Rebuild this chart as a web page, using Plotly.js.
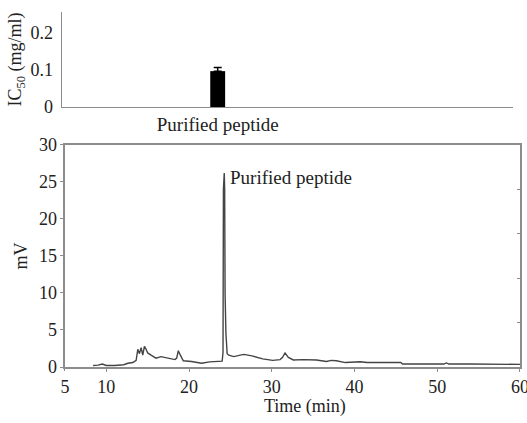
<!DOCTYPE html>
<html>
<head>
<meta charset="utf-8">
<script src="https://cdn.plot.ly/plotly-3.0.1.min.js"></script>
<style>
  html, body { margin: 0; padding: 0; background: #fff; }
  #chart { width: 527px; height: 423px; }
</style>
</head>
<body>
<div id="chart"></div>
<script>
// IC50 of the purified fraction (bar with upward error)
const sampleNames = ['Purified peptide'];
const ic50Values = [0.097];
const ic50Errors = [0.01];

// RP-HPLC chromatogram of the purified peptide
const timeMin = [8.4, 9.0, 9.5, 10.0, 11.0, 12.1, 12.6, 13.2, 13.6, 13.8, 14.0, 14.2, 14.4, 14.6, 14.8,
  15.0, 15.4, 16.0, 16.6, 17.0, 17.5, 18.3, 18.5, 18.7, 18.9, 19.3, 20.3, 21.5, 22.5, 23.3, 24.0,
  24.1, 24.15, 24.25, 24.3, 24.35, 24.45, 24.6, 24.8, 25.4, 26.6, 27.6, 28.9, 30.1, 31.0, 31.3,
  31.6, 32.0, 32.6, 33.8, 35.4, 36.6, 37.2, 37.8, 38.9, 40.7, 41.5, 45.6, 45.8, 48.0, 50.8, 51.1,
  51.4, 54.0, 57.0, 60.0];
const signalMV = [0.2, 0.25, 0.4, 0.2, 0.2, 0.3, 0.5, 0.6, 0.9, 2.4, 1.8, 2.6, 1.6, 2.8, 2.4,
  1.9, 1.6, 1.2, 1.4, 1.3, 1.1, 1.0, 1.2, 2.2, 1.7, 0.85, 0.75, 0.5, 0.7, 0.8, 0.8,
  2.0, 24.0, 26.2, 24.0, 10.0, 4.6, 1.8, 1.6, 1.4, 1.7, 1.5, 1.1, 0.9, 1.0, 1.3,
  1.9, 1.3, 0.95, 1.0, 0.95, 0.75, 0.9, 0.85, 0.6, 0.7, 0.6, 0.6, 0.4, 0.4, 0.4, 0.55,
  0.4, 0.4, 0.35, 0.35];

// Peak label, axis ticks and right-hand minor marks
const peakLabel = 'Purified peptide';
const rightTicks = [6, 12, 18, 24];
const mvTicks = [0, 5, 10, 15, 20, 25, 30];
const timeStartTick = [5];
const timeTicks = [10, 20, 30, 40, 50, 60];

const serif = "'Liberation Serif', 'Times New Roman', Times, serif";
const axisGray = '#8c8c8c';
const txt = '#222';

const peakIdx = signalMV.indexOf(Math.max(...signalMV));

const traces = [
  {
    type: 'bar',
    x: sampleNames,
    y: ic50Values,
    width: 0.5,
    marker: { color: '#000' },
    error_y: { type: 'data', symmetric: false, array: ic50Errors, arrayminus: [0],
               color: '#000', thickness: 1.5, width: 4 },
    xaxis: 'x', yaxis: 'y',
    hoverinfo: 'skip'
  },
  {
    type: 'scatter',
    mode: 'lines',
    x: timeMin,
    y: signalMV,
    line: { color: '#444', width: 1.4 },
    xaxis: 'x2', yaxis: 'y2',
    hoverinfo: 'skip'
  },
  {
    // empty traces so the extra overlay axes are drawn
    type: 'scatter', mode: 'lines', x: [], y: [],
    xaxis: 'x2', yaxis: 'y3', showlegend: false
  },
  {
    type: 'scatter', mode: 'lines', x: [], y: [],
    xaxis: 'x3', yaxis: 'y2', showlegend: false
  }
];

const tickFont = { family: serif, size: 18, color: txt };
const labelFont = { family: serif, size: 19, color: txt };

const layout = {
  width: 527, height: 423,
  margin: { l: 62, r: 7, t: 12, b: 56 },
  paper_bgcolor: '#fff', plot_bgcolor: '#fff',
  showlegend: false,
  font: { family: serif, size: 18, color: txt },
  xaxis: {
    domain: [0, 0.9847], anchor: 'y',
    type: 'category', range: [-5.23, 9.92],
    showline: true, linecolor: axisGray, linewidth: 1.5,
    ticks: '', showgrid: false, zeroline: false,
    tickfont: labelFont,
    ticklabeloverflow: 'allow'
  },
  yaxis: {
    domain: [0.7324, 1], anchor: 'x',
    range: [0, 0.257],
    tickmode: 'array',
    tickvals: [0, 0.1, 0.2], ticktext: ['0', '0.1', '0.2'],
    showline: true, linecolor: axisGray, linewidth: 1.5,
    ticks: '', ticklabelstandoff: 4, showgrid: false, zeroline: false,
    tickfont: tickFont,
    title: { text: 'IC<sub>50</sub> (mg/ml)', font: tickFont, standoff: 4 }
  },
  xaxis2: {
    domain: [0.00655, 1], anchor: 'y2',
    range: [5, 60],
    tickmode: 'array',
    tickvals: timeTicks,
    tickangle: 0,
    ticklabeloverflow: 'allow',
    showline: true, mirror: true, linecolor: axisGray, linewidth: 1.5,
    ticks: 'outside', ticklen: 3, tickcolor: axisGray,
    showgrid: false, zeroline: false,
    tickfont: tickFont
  },
  // start-of-range label on its own overlay axis
  xaxis3: {
    overlaying: 'x2', anchor: 'y2', side: 'bottom',
    range: [5, 60],
    tickmode: 'array',
    tickvals: timeStartTick,
    tickangle: 0,
    ticklabeloverflow: 'allow',
    showline: false, ticks: 'outside', ticklen: 3, tickcolor: axisGray,
    showgrid: false, zeroline: false,
    tickfont: tickFont
  },
  yaxis2: {
    domain: [0, 0.6254], anchor: 'x2',
    range: [0, 30],
    tickmode: 'array',
    tickvals: mvTicks,
    showline: true, mirror: true, linecolor: axisGray, linewidth: 1.5,
    ticks: 'outside', ticklen: 3, tickcolor: axisGray,
    showgrid: false, zeroline: false,
    tickfont: tickFont,
    title: { text: 'mV', font: tickFont, standoff: 6 }
  },
  yaxis3: {
    overlaying: 'y2', anchor: 'x2', side: 'right',
    range: [0, 30],
    tickmode: 'array',
    tickvals: rightTicks,
    showticklabels: false,
    ticks: 'inside', ticklen: 3, tickcolor: axisGray,
    showline: false, showgrid: false, zeroline: false
  },
  annotations: [
    {
      xref: 'x2', yref: 'y2',
      x: timeMin[peakIdx], y: signalMV[peakIdx],
      text: peakLabel, showarrow: false,
      xanchor: 'left', yanchor: 'middle', xshift: 4, yshift: -4,
      font: labelFont
    },
    {
      xref: 'paper', yref: 'paper',
      x: 0.53, y: -0.11,
      text: 'Time (min)', showarrow: false,
      xanchor: 'center', yanchor: 'middle',
      font: tickFont
    }
  ]
};

Plotly.newPlot('chart', traces, layout, { staticPlot: true, displayModeBar: false });
</script>
</body>
</html>
